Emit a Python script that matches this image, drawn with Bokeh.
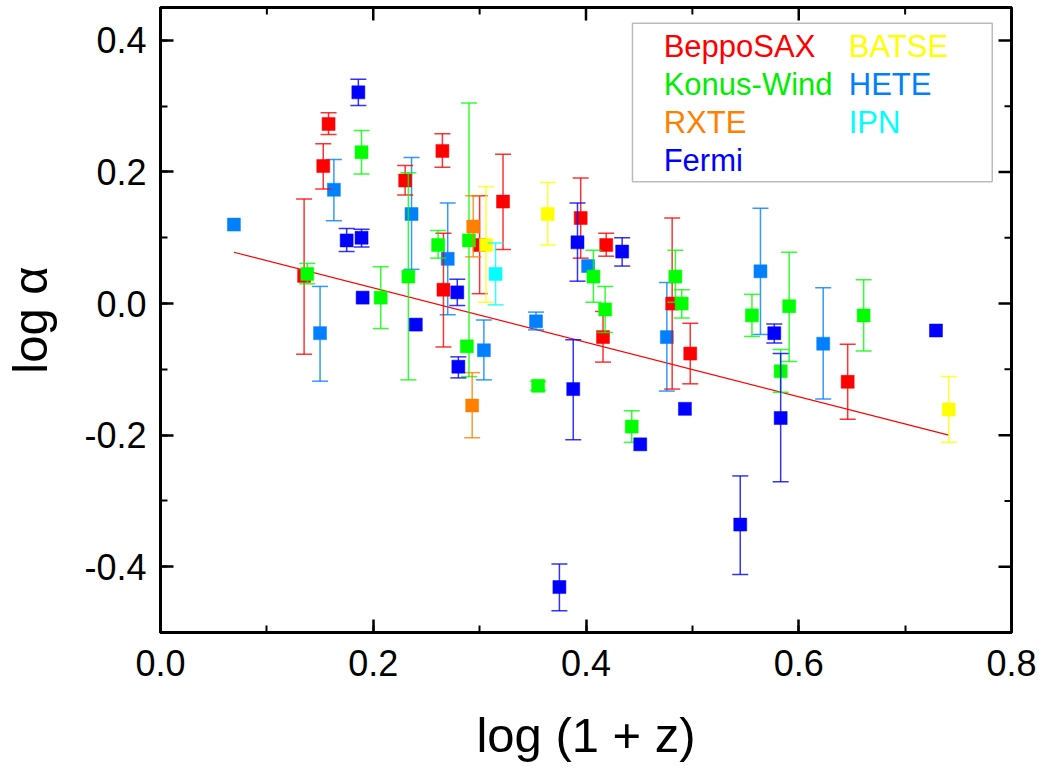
import numpy as np
from bokeh.plotting import figure
from bokeh.models import (LinearAxis, SingleIntervalTicker, PrintfTickFormatter,
                          Label, BoxAnnotation, ColumnDataSource)
from bokeh.embed import file_html
from bokeh.resources import INLINE

# ---------------- data ----------------
# each series: x = log(1+z), y = log alpha, lo/hi = error-bar ends (None = no bar)
beppo_x  = [0.135, 0.158, 0.153, 0.230, 0.265, 0.266, 0.300, 0.322, 0.395, 0.416, 0.419, 0.481, 0.498, 0.646]
beppo_y  = [0.042, 0.273, 0.209, 0.187, 0.232, 0.021, 0.089, 0.155, 0.130, -0.051, 0.089, 0.000, -0.076, -0.119]
beppo_lo = [-0.077, 0.257, 0.174, 0.165, 0.207, -0.066, 0.015, 0.082, 0.069, -0.089, 0.072, -0.130, -0.122, -0.176]
beppo_hi = [0.159, 0.290, 0.243, 0.210, 0.258, 0.107, 0.164, 0.227, 0.191, -0.012, 0.107, 0.130, -0.030, -0.062]

konus_x  = [0.138, 0.189, 0.207, 0.233, 0.261, 0.290, 0.288, 0.355, 0.407, 0.418, 0.443, 0.484, 0.490, 0.556, 0.591, 0.583, 0.661]
konus_y  = [0.045, 0.230, 0.009, 0.041, 0.089, 0.096, -0.065, -0.125, 0.041, -0.009, -0.187, 0.041, 0.000, -0.018, -0.004, -0.103, -0.018]
konus_lo = [0.030, 0.197, -0.038, -0.116, 0.069, -0.111, None, -0.132, 0.002, -0.044, -0.211, 0.002, -0.022, -0.050, -0.088, -0.135, -0.072]
konus_hi = [0.061, 0.263, 0.056, 0.199, 0.111, 0.305, None, -0.118, 0.081, 0.026, -0.163, 0.081, 0.021, 0.014, 0.078, -0.070, 0.036]

rxte_x  = [0.294, 0.293]
rxte_y  = [0.117, -0.155]
rxte_lo = [0.071, -0.204]
rxte_hi = [0.164, -0.105]

fermi_x  = [0.186, 0.175, 0.189, 0.190, 0.240, 0.279, 0.280, 0.388, 0.375, 0.392, 0.434, 0.451, 0.493, 0.545, 0.577, 0.583, 0.729]
fermi_y  = [0.321, 0.096, 0.100, 0.009, -0.032, 0.017, -0.096, -0.130, -0.431, 0.093, 0.079, -0.214, -0.160, -0.336, -0.045, -0.174, -0.041]
fermi_lo = [0.301, 0.079, 0.086, None, None, -0.003, -0.113, -0.207, -0.467, 0.034, 0.057, None, None, -0.412, -0.060, -0.271, None]
fermi_hi = [0.341, 0.114, 0.113, None, None, 0.037, -0.081, -0.055, -0.396, 0.153, 0.100, None, None, -0.262, -0.031, -0.076, None]

batse_x  = [0.306, 0.364, 0.741]
batse_y  = [0.089, 0.136, -0.161]
batse_lo = [0.002, 0.089, -0.211]
batse_hi = [0.178, 0.184, -0.111]

hete_x  = [0.069, 0.163, 0.150, 0.236, 0.270, 0.304, 0.353, 0.402, 0.476, 0.564, 0.623]
hete_y  = [0.120, 0.173, -0.045, 0.136, 0.068, -0.071, -0.027, 0.057, -0.051, 0.049, -0.061]
hete_lo = [None, 0.126, -0.118, 0.052, -0.017, -0.116, -0.040, None, -0.133, -0.047, -0.145]
hete_hi = [None, 0.219, 0.026, 0.222, 0.153, -0.025, -0.013, None, 0.032, 0.145, 0.024]

ipn_x  = [0.315]
ipn_y  = [0.045]
ipn_lo = [-0.002]
ipn_hi = [0.092]

# linear fit drawn in the reference (end points)
fit_x = [0.069, 0.741]
fit_y = [0.078, -0.200]

X_START, X_END = 0.0, 0.8
Y_START, Y_END = -0.5, 0.45
major_step = 0.2
minor_step = 0.1

# ---------------- styling ----------------
FONT = "Liberation Sans"
series = [
    # name, x, y, lo, hi, colour
    ("HETE", hete_x, hete_y, hete_lo, hete_hi, "#0080ff"),
    ("BeppoSAX", beppo_x, beppo_y, beppo_lo, beppo_hi, "#ff0000"),
    ("Konus-Wind", konus_x, konus_y, konus_lo, konus_hi, "#00ff00"),
    ("RXTE", rxte_x, rxte_y, rxte_lo, rxte_hi, "#ff8000"),
    ("BATSE", batse_x, batse_y, batse_lo, batse_hi, "#ffff00"),
    ("Fermi", fermi_x, fermi_y, fermi_lo, fermi_hi, "#0000ff"),
    ("IPN", ipn_x, ipn_y, ipn_lo, ipn_hi, "#00ffff"),
]

p = figure(frame_width=851, frame_height=625,
           x_range=(X_START, X_END), y_range=(Y_START, Y_END),
           output_backend="svg", toolbar_location=None,
           min_border_left=157, min_border_top=7, min_border_right=30,
           min_border_bottom=110, x_axis_location=None, y_axis_location=None)
p.xgrid.visible = False
p.ygrid.visible = False
p.outline_line_color = "black"
p.outline_line_width = 3
p.outline_line_alpha = 1.0
p.background_fill_color = "white"
p.border_fill_color = "white"


def make_axis(label_text, tick_standoff, label_standoff):
    ax = LinearAxis(ticker=SingleIntervalTicker(interval=major_step, num_minor_ticks=2),
                    formatter=PrintfTickFormatter(format="%.1f"))
    ax.axis_line_width = 3
    ax.axis_line_color = "black"
    ax.major_tick_in = 13
    ax.major_tick_out = 0
    ax.minor_tick_in = 7
    ax.minor_tick_out = 0
    ax.major_tick_line_width = 2.5
    ax.minor_tick_line_width = 2
    ax.major_tick_line_color = "black"
    ax.minor_tick_line_color = "black"
    ax.major_label_text_font = FONT
    ax.major_label_text_font_size = "36px"
    ax.major_label_text_color = "black"
    ax.major_label_standoff = tick_standoff
    ax.axis_label = label_text
    ax.axis_label_text_font = FONT
    ax.axis_label_text_font_size = "49px"
    ax.axis_label_text_font_style = "normal"
    ax.axis_label_text_color = "black"
    ax.axis_label_standoff = label_standoff
    return ax


p.add_layout(make_axis("log (1 + z)", 17, 29), "below")
p.add_layout(make_axis("log \u03b1", 14, 24), "left")

# inward ticks on the top and right frame edges (mirrors of the labelled axes);
# dash markers centred on the edge, the outer half is clipped by the frame
x_major = np.arange(X_START, X_END + 1e-9, major_step)
x_minor = np.arange(X_START + minor_step, X_END, major_step)
y_major = np.arange(-0.4, Y_END, major_step)
y_minor = np.arange(-0.5, Y_END, major_step)
p.scatter(x_major, np.full(len(x_major), Y_END), marker="dash", angle=np.pi / 2,
          size=26, line_color="black", line_width=2.5)
p.scatter(x_minor, np.full(len(x_minor), Y_END), marker="dash", angle=np.pi / 2,
          size=14, line_color="black", line_width=2)
p.scatter(np.full(len(y_major), X_END), y_major, marker="dash",
          size=26, line_color="black", line_width=2.5)
p.scatter(np.full(len(y_minor), X_END), y_minor, marker="dash",
          size=14, line_color="black", line_width=2)

# fit line (under the points)
p.line(fit_x, fit_y, line_color="#ff0000", line_width=1.2)

for name, xs, ys, lo, hi, col in series:
    ex = [x for x, l in zip(xs, lo) if l is not None]
    el = [l for l in lo if l is not None]
    eh = [h for h in hi if h is not None]
    err = ColumnDataSource(dict(x=ex, lo=el, hi=eh))
    p.segment(x0="x", y0="lo", x1="x", y1="hi", source=err,
              line_color=col, line_width=1.5, line_alpha=0.8)
    p.scatter(x="x", y="lo", source=err, marker="dash", size=16,
              line_color=col, line_width=1.5, line_alpha=0.8)
    p.scatter(x="x", y="hi", source=err, marker="dash", size=16,
              line_color=col, line_width=1.5, line_alpha=0.8)
    pts = ColumnDataSource(dict(x=xs, y=ys))
    p.scatter(x="x", y="y", source=pts, marker="square", size=13,
              fill_color=col, line_color=col, line_alpha=0.5, line_width=1)

# ---------------- legend (coloured text inside a box) ----------------
legend_box = BoxAnnotation(left=0.4437, right=0.7819, top=0.4262, bottom=0.1853,
                           fill_color=None, line_color="#222222", line_width=1.5)
p.add_layout(legend_box)

legend_entries = [
    ("BeppoSAX", "#ff0000", 0.4730, 0.3900),
    ("Konus-Wind", "#00ee00", 0.4730, 0.3325),
    ("RXTE", "#ff8000", 0.4730, 0.2752),
    ("Fermi", "#0000ff", 0.4730, 0.2180),
    ("BATSE", "#ffff00", 0.6470, 0.3900),
    ("HETE", "#0080ff", 0.6470, 0.3325),
    ("IPN", "#00ffff", 0.6470, 0.2752),
]
for txt, col, lx, ly in legend_entries:
    p.add_layout(Label(x=lx, y=ly, text=txt, text_color=col,
                       text_font=FONT, text_font_size="31px",
                       text_baseline="alphabetic", text_align="left"))

open("out.html", "w").write(file_html(p, INLINE))
